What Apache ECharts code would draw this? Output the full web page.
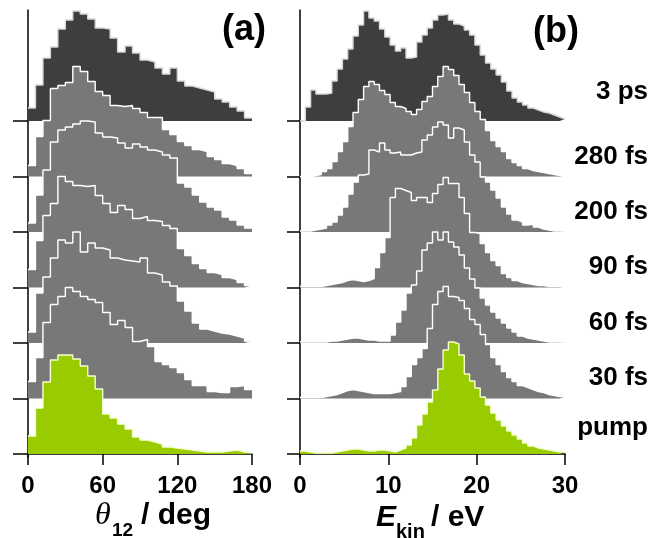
<!DOCTYPE html>
<html>
<head>
<meta charset="utf-8">
<script src="https://cdn.jsdelivr.net/npm/echarts@6/dist/echarts.min.js"></script>
<style>
  html, body { margin: 0; padding: 0; background: #fff; }
  #chart { width: 663px; height: 538px; }
</style>
</head>
<body>
<div id="chart"></div>
<script>
// delay labels, top to bottom
var delays = ['3 ps', '280 fs', '200 fs', '90 fs', '60 fs', '30 fs', 'pump'];

// (a) opening angle histograms, 6 deg bins from 0 to 180
var theta3ps  = [13, 36, 63, 74, 92, 101, 110, 107, 102, 93, 92, 83, 69, 75, 68, 61, 59, 53, 47, 53, 40, 35, 33, 31, 29, 22, 19, 14, 10, 3];
var theta280  = [11, 40, 56, 88, 91, 94, 110, 105, 95, 85, 81, 71, 70, 71, 68, 64, 59, 59, 47, 42, 35, 31, 27, 25, 20, 17, 13, 11, 8, 3];
var theta200  = [9, 37, 62, 90, 102, 105, 108, 111, 110, 99, 95, 94, 89, 84, 88, 85, 82, 80, 77, 74, 49, 45, 37, 30, 25, 22, 15, 12, 7, 4];
var theta90   = [18, 47, 72, 84, 111, 106, 102, 101, 102, 92, 84, 75, 82, 78, 69, 71, 67, 66, 62, 59, 39, 32, 24, 19, 15, 13, 10, 8, 5, 2];
var theta60   = [11, 50, 66, 85, 103, 100, 111, 91, 100, 95, 93, 85, 83, 82, 81, 85, 70, 68, 61, 57, 42, 32, 20, 14, 12, 10, 9, 7, 5, 2];
var theta30   = [17, 41, 76, 94, 102, 111, 107, 102, 99, 96, 86, 74, 78, 71, 57, 59, 52, 37, 34, 31, 26, 19, 13, 13, 7, 6, 6, 12, 13, 9];
var thetaPump = [18, 46, 72, 94, 99, 99, 95, 88, 78, 65, 40, 36, 30, 25, 17, 14, 12, 10, 7, 6, 5, 4, 3, 2, 2, 2, 3, 4, 2, 1];

// (b) kinetic energy histograms, 0.6 eV bins from 0 to 30
var ekin3ps  = [0, 14, 31, 27, 27, 28, 40, 52, 62, 72, 85, 96, 110, 103, 100, 92, 84, 76, 70, 73, 63, 64, 79, 86, 93, 101, 106, 107, 101, 97, 95, 91, 86, 76, 66, 58, 52, 46, 39, 30, 23, 19, 16, 13, 11, 9, 8, 6, 4, 2];
var ekin280  = [0, 0, 1, 2, 5, 8, 15, 25, 35, 50, 64, 77, 90, 95, 92, 86, 82, 74, 70, 68, 65, 62, 67, 75, 80, 90, 100, 110, 107, 101, 92, 84, 74, 65, 57, 46, 36, 30, 25, 18, 14, 11, 8, 6, 5, 4, 3, 2, 1, 1];
var ekin200  = [1, 1, 2, 3, 4, 7, 10, 17, 25, 38, 50, 57, 58, 82, 80, 89, 82, 79, 80, 77, 77, 79, 80, 92, 97, 105, 110, 107, 94, 104, 102, 90, 77, 70, 55, 50, 42, 34, 25, 18, 12, 10, 7, 8, 5, 3, 2, 1, 1, 1];
var ekin90   = [1, 1, 1, 1, 2, 3, 4, 5, 7, 8, 7, 6, 7, 9, 20, 35, 50, 90, 99, 97, 95, 87, 90, 90, 85, 94, 103, 110, 104, 104, 90, 74, 55, 54, 44, 35, 27, 22, 14, 10, 7, 5, 4, 3, 2, 2, 1, 1, 1, 1];
var ekin60   = [1, 1, 1, 1, 1, 2, 2, 3, 4, 5, 5, 4, 3, 3, 2, 2, 2, 8, 21, 33, 50, 58, 72, 93, 100, 111, 103, 111, 101, 96, 88, 75, 64, 55, 45, 38, 31, 25, 20, 15, 11, 7, 5, 4, 3, 2, 1, 1, 1, 1];
var ekin30   = [1, 1, 1, 1, 2, 3, 4, 6, 8, 9, 8, 7, 6, 5, 5, 5, 5, 6, 7, 12, 22, 34, 41, 50, 70, 94, 107, 112, 102, 101, 98, 90, 79, 74, 64, 54, 41, 34, 27, 21, 17, 13, 11, 9, 7, 6, 4, 3, 2, 2];
var ekinPump = [3, 2, 1, 1, 1, 1, 2, 3, 4, 5, 5, 4, 3, 3, 4, 4, 3, 2, 4, 6, 9, 16, 29, 40, 52, 64, 85, 104, 112, 110, 99, 80, 73, 66, 57, 49, 41, 34, 28, 23, 19, 15, 11, 8, 6, 5, 4, 3, 2, 2];

var thetaSets = [theta3ps, theta280, theta200, theta90, theta60, theta30, thetaPump];
var ekinSets = [ekin3ps, ekin280, ekin200, ekin90, ekin60, ekin30, ekinPump];

var step = 55.5;   // vertical offset between traces
var offsets = delays.map(function (d, i) { return step * (delays.length - 1 - i); });
var fills = ['#3e3e3e', '#787878', '#787878', '#787878', '#787878', '#787878', '#99cc00'];
var edgeColors = ['#d8d8d8', '#fff', '#fff', '#fff', '#fff', '#fff', '#f4ffd0'];

function edges(width, n) {
  var e = [];
  for (var k = 0; k <= n; k++) e.push(+(k * width).toFixed(3));
  return e;
}

// one filled step trace, lifted by its offset, area filled down to that offset
function traceSeries(axis, xs, values, i) {
  var pts = xs.map(function (x, k) {
    return [x, offsets[i] + values[Math.min(k, values.length - 1)]];
  });
  return {
    type: 'line', xAxisIndex: axis, yAxisIndex: axis, data: pts, step: 'end',
    symbol: 'none', silent: true, clip: false,
    lineStyle: { color: edgeColors[i], width: 1.4 },
    areaStyle: { color: fills[i], opacity: 1, origin: offsets[i] }
  };
}

var thetaX = edges(6, theta3ps.length);
var ekinX = edges(0.6, ekin3ps.length);

var series = [];
thetaSets.forEach(function (v, i) { series.push(traceSeries(0, thetaX, v, i)); });
ekinSets.forEach(function (v, i) { series.push(traceSeries(1, ekinX, v, i)); });

var sans = '"Liberation Sans", Arial, Helvetica, sans-serif';

function xAxisFor(idx, max, interval) {
  return {
    type: 'value', gridIndex: idx, min: 0, max: max, interval: interval,
    axisLine: { lineStyle: { color: '#000', width: 1.5 } },
    axisTick: { inside: false, length: 11, lineStyle: { color: '#000', width: 1.5 } },
    axisLabel: { color: '#000', fontFamily: sans, fontWeight: 'bold', fontSize: 24, margin: 17 },
    splitLine: { show: false }
  };
}
function yAxisFor(idx, tickLen) {
  return {
    type: 'value', gridIndex: idx, min: -3, max: 444,
    axisLine: { show: true, lineStyle: { color: '#000', width: 1.5 } },
    axisTick: { show: true, inside: false, length: tickLen, customValues: offsets,
      lineStyle: { color: '#000', width: 1.5 } },
    axisLabel: { show: false },
    splitLine: { show: false }
  };
}

var graphic = [
  { type: 'text', left: 222, top: 12, style: { text: '(a)', font: 'bold 36px ' + sans, fill: '#000' } },
  { type: 'text', left: 533, top: 14, style: { text: '(b)', font: 'bold 36px ' + sans, fill: '#000' } },
  // x axis titles
  { type: 'text', x: 95, y: 516, style: { text: 'θ', font: 'italic 32px "Liberation Serif", serif', fill: '#000', verticalAlign: 'middle' } },
  { type: 'text', x: 112, y: 531, style: { text: '12', font: 'bold 19px ' + sans, fill: '#000', verticalAlign: 'middle' } },
  { type: 'text', x: 141, y: 516, style: { text: '/ deg', font: 'bold 30px ' + sans, fill: '#000', verticalAlign: 'middle' } },
  { type: 'text', x: 376, y: 518, style: { text: 'E', font: 'italic bold 30px ' + sans, fill: '#000', verticalAlign: 'middle' } },
  { type: 'text', x: 396, y: 532, style: { text: 'kin', font: 'bold 20px ' + sans, fill: '#000', verticalAlign: 'middle' } },
  { type: 'text', x: 431, y: 518, style: { text: '/ eV', font: 'bold 30px ' + sans, fill: '#000', verticalAlign: 'middle' } }
];
var labelY = [92, 157, 212, 267, 323, 378, 428];
delays.forEach(function (d, i) {
  graphic.push({ type: 'text', x: 648, y: labelY[i],
    style: { text: d, font: 'bold 26px ' + sans, fill: '#000', align: 'right', verticalAlign: 'middle' } });
});

var chart = echarts.init(document.getElementById('chart'), null, { renderer: 'canvas' });
chart.setOption({
  animation: false,
  backgroundColor: '#fff',
  grid: [
    { left: 28, right: 411, top: 10, bottom: 81 },
    { left: 300, right: 98, top: 10, bottom: 81 }
  ],
  xAxis: [xAxisFor(0, 180, 60), xAxisFor(1, 30, 10)],
  yAxis: [yAxisFor(0, 15), yAxisFor(1, 13)],
  series: series,
  graphic: graphic
});
</script>
</body>
</html>
